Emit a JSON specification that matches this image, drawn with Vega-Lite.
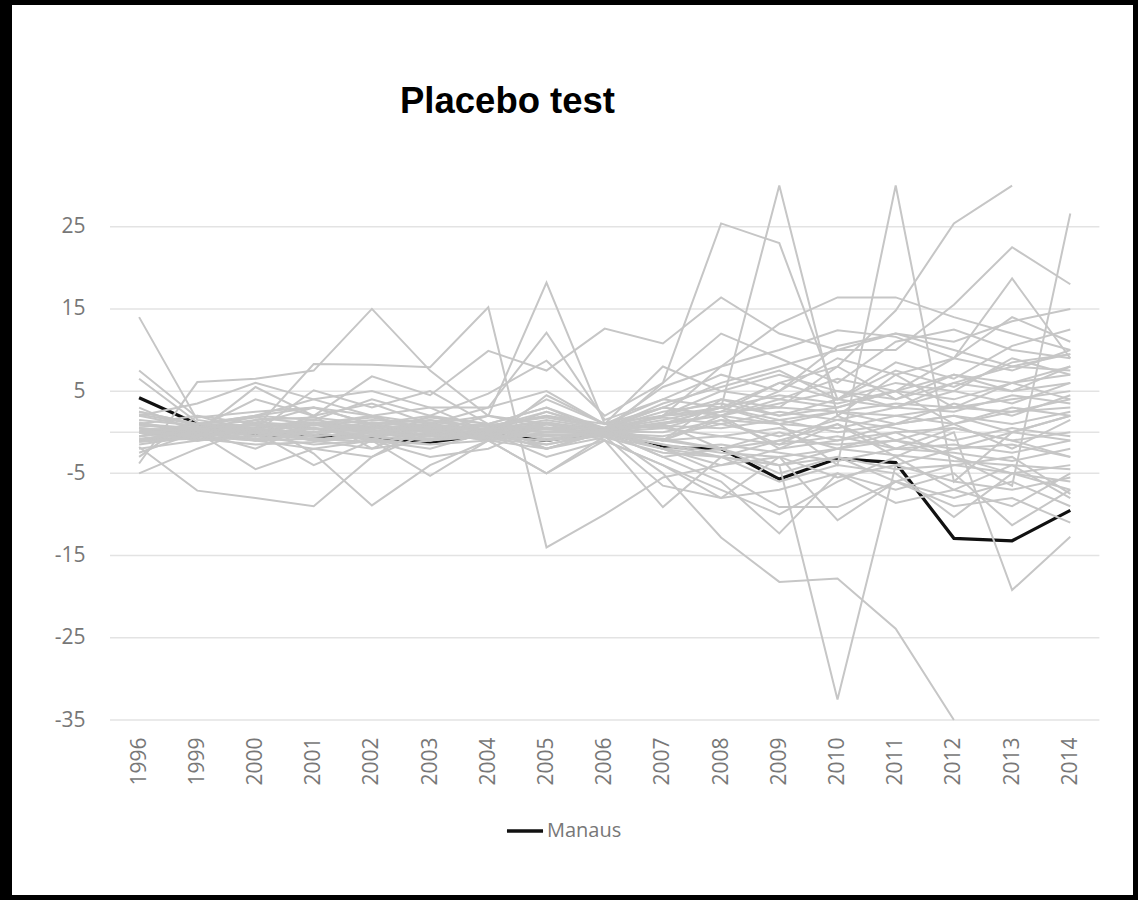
{
"$schema": "https://vega.github.io/schema/vega-lite/v6.json",
"width": 1138,
"height": 900,
"autosize": {"type": "fit", "contains": "padding"},
"padding": {"left": 12, "top": 5, "right": 5, "bottom": 5},
"background": "#000000",
"config": {"view": {"stroke": null, "fill": "#ffffff"}, "font": "Open Sans"},
"title": {"text": "Placebo test", "anchor": "start", "frame": "group", "orient": "top", "offset": -144, "dx": 388, "baseline": "alphabetic", "font": "Liberation Sans", "fontSize": 36.5, "fontWeight": "bold", "color": "#000000"},
"data": {"values": [
{"s":"M","t":1996,"v":4.2},{"s":"M","t":1999,"v":1.0},{"s":"M","t":2000,"v":-0.3},{"s":"M","t":2001,"v":-0.4},{"s":"M","t":2002,"v":-0.7},{"s":"M","t":2003,"v":-1.2},{"s":"M","t":2004,"v":-0.3},{"s":"M","t":2005,"v":-1.0},{"s":"M","t":2006,"v":0.0},{"s":"M","t":2007,"v":-1.8},{"s":"M","t":2008,"v":-2.0},{"s":"M","t":2009,"v":-5.7},{"s":"M","t":2010,"v":-3.2},{"s":"M","t":2011,"v":-3.7},{"s":"M","t":2012,"v":-12.9},{"s":"M","t":2013,"v":-13.2},{"s":"M","t":2014,"v":-9.5},
{"s":"a","t":1996,"v":14},{"s":"a","t":1999,"v":1.5},{"s":"a","t":2000,"v":0.5},{"s":"a","t":2001,"v":1},{"s":"a","t":2002,"v":0.2},{"s":"a","t":2003,"v":-0.5},{"s":"a","t":2004,"v":0.5},{"s":"a","t":2005,"v":1.2},{"s":"a","t":2006,"v":0.2},{"s":"a","t":2007,"v":2},{"s":"a","t":2008,"v":3},{"s":"a","t":2009,"v":1.5},{"s":"a","t":2010,"v":2.5},{"s":"a","t":2011,"v":1},{"s":"a","t":2012,"v":3.5},{"s":"a","t":2013,"v":2},{"s":"a","t":2014,"v":4.5},
{"s":"b","t":1996,"v":7.5},{"s":"b","t":1999,"v":1.8},{"s":"b","t":2000,"v":2.5},{"s":"b","t":2001,"v":3},{"s":"b","t":2002,"v":1},{"s":"b","t":2003,"v":2},{"s":"b","t":2004,"v":0},{"s":"b","t":2005,"v":2.5},{"s":"b","t":2006,"v":0.5},{"s":"b","t":2007,"v":3.5},{"s":"b","t":2008,"v":5.5},{"s":"b","t":2009,"v":7.5},{"s":"b","t":2010,"v":4},{"s":"b","t":2011,"v":8.5},{"s":"b","t":2012,"v":6.5},{"s":"b","t":2013,"v":10.5},{"s":"b","t":2014,"v":12.5},
{"s":"c","t":1996,"v":6.5},{"s":"c","t":1999,"v":1.2},{"s":"c","t":2000,"v":-0.5},{"s":"c","t":2001,"v":2},{"s":"c","t":2002,"v":3.5},{"s":"c","t":2003,"v":1},{"s":"c","t":2004,"v":-1},{"s":"c","t":2005,"v":4.5},{"s":"c","t":2006,"v":1},{"s":"c","t":2007,"v":3},{"s":"c","t":2008,"v":2},{"s":"c","t":2009,"v":5},{"s":"c","t":2010,"v":10.5},{"s":"c","t":2011,"v":12},{"s":"c","t":2012,"v":10},{"s":"c","t":2013,"v":8},{"s":"c","t":2014,"v":9.5},
{"s":"d","t":1996,"v":-3.8},{"s":"d","t":1999,"v":6.1},{"s":"d","t":2000,"v":6.5},{"s":"d","t":2001,"v":7.5},{"s":"d","t":2002,"v":15},{"s":"d","t":2003,"v":7.5},{"s":"d","t":2004,"v":2},{"s":"d","t":2005,"v":0.5},{"s":"d","t":2006,"v":0.5},{"s":"d","t":2007,"v":-1},{"s":"d","t":2008,"v":4},{"s":"d","t":2009,"v":2},{"s":"d","t":2010,"v":3},{"s":"d","t":2011,"v":5},{"s":"d","t":2012,"v":1},{"s":"d","t":2013,"v":2.5},{"s":"d","t":2014,"v":3},
{"s":"e","t":1996,"v":-1.8},{"s":"e","t":1999,"v":-7.1},{"s":"e","t":2000,"v":-8},{"s":"e","t":2001,"v":-9},{"s":"e","t":2002,"v":-3},{"s":"e","t":2003,"v":0},{"s":"e","t":2004,"v":1},{"s":"e","t":2005,"v":-2},{"s":"e","t":2006,"v":0},{"s":"e","t":2007,"v":-1.5},{"s":"e","t":2008,"v":-3},{"s":"e","t":2009,"v":-1},{"s":"e","t":2010,"v":1},{"s":"e","t":2011,"v":-2},{"s":"e","t":2012,"v":0.5},{"s":"e","t":2013,"v":-1},{"s":"e","t":2014,"v":-3},
{"s":"f","t":1996,"v":0.5},{"s":"f","t":1999,"v":-1},{"s":"f","t":2000,"v":1.5},{"s":"f","t":2001,"v":-2.6},{"s":"f","t":2002,"v":-8.9},{"s":"f","t":2003,"v":-4},{"s":"f","t":2004,"v":-1},{"s":"f","t":2005,"v":0.5},{"s":"f","t":2006,"v":0},{"s":"f","t":2007,"v":1},{"s":"f","t":2008,"v":-2},{"s":"f","t":2009,"v":-4},{"s":"f","t":2010,"v":-2},{"s":"f","t":2011,"v":0},{"s":"f","t":2012,"v":-3},{"s":"f","t":2013,"v":-5},{"s":"f","t":2014,"v":-4},
{"s":"g","t":1996,"v":-5},{"s":"g","t":1999,"v":-2},{"s":"g","t":2000,"v":0.5},{"s":"g","t":2001,"v":8.3},{"s":"g","t":2002,"v":8.2},{"s":"g","t":2003,"v":7.9},{"s":"g","t":2004,"v":15.2},{"s":"g","t":2005,"v":-14},{"s":"g","t":2006,"v":-10},{"s":"g","t":2007,"v":-5.5},{"s":"g","t":2008,"v":-4},{"s":"g","t":2009,"v":-2},{"s":"g","t":2010,"v":-1},{"s":"g","t":2011,"v":1},{"s":"g","t":2012,"v":2},{"s":"g","t":2013,"v":0},{"s":"g","t":2014,"v":2},
{"s":"h","t":1996,"v":2},{"s":"h","t":1999,"v":3.5},{"s":"h","t":2000,"v":6},{"s":"h","t":2001,"v":4},{"s":"h","t":2002,"v":2},{"s":"h","t":2003,"v":1},{"s":"h","t":2004,"v":2},{"s":"h","t":2005,"v":18.2},{"s":"h","t":2006,"v":1},{"s":"h","t":2007,"v":0.5},{"s":"h","t":2008,"v":2.5},{"s":"h","t":2009,"v":6},{"s":"h","t":2010,"v":8},{"s":"h","t":2011,"v":4},{"s":"h","t":2012,"v":7},{"s":"h","t":2013,"v":5},{"s":"h","t":2014,"v":6},
{"s":"i","t":1996,"v":1},{"s":"i","t":1999,"v":0.5},{"s":"i","t":2000,"v":4},{"s":"i","t":2001,"v":2},{"s":"i","t":2002,"v":6.8},{"s":"i","t":2003,"v":4.5},{"s":"i","t":2004,"v":9.9},{"s":"i","t":2005,"v":7.5},{"s":"i","t":2006,"v":12.6},{"s":"i","t":2007,"v":10.8},{"s":"i","t":2008,"v":16.4},{"s":"i","t":2009,"v":12},{"s":"i","t":2010,"v":10},{"s":"i","t":2011,"v":12},{"s":"i","t":2012,"v":11},{"s":"i","t":2013,"v":13.5},{"s":"i","t":2014,"v":15},
{"s":"j","t":1996,"v":0},{"s":"j","t":1999,"v":-0.5},{"s":"j","t":2000,"v":1},{"s":"j","t":2001,"v":0.5},{"s":"j","t":2002,"v":-1},{"s":"j","t":2003,"v":2},{"s":"j","t":2004,"v":1},{"s":"j","t":2005,"v":3},{"s":"j","t":2006,"v":0},{"s":"j","t":2007,"v":6},{"s":"j","t":2008,"v":25.4},{"s":"j","t":2009,"v":23},{"s":"j","t":2010,"v":4},{"s":"j","t":2011,"v":6},{"s":"j","t":2012,"v":5},{"s":"j","t":2013,"v":9},{"s":"j","t":2014,"v":7},
{"s":"k","t":1996,"v":-1},{"s":"k","t":1999,"v":0},{"s":"k","t":2000,"v":-2},{"s":"k","t":2001,"v":1},{"s":"k","t":2002,"v":0},{"s":"k","t":2003,"v":-1},{"s":"k","t":2004,"v":0.5},{"s":"k","t":2005,"v":2},{"s":"k","t":2006,"v":1},{"s":"k","t":2007,"v":4},{"s":"k","t":2008,"v":3},{"s":"k","t":2009,"v":30},{"s":"k","t":2010,"v":2},{"s":"k","t":2011,"v":7},{"s":"k","t":2012,"v":3},{"s":"k","t":2013,"v":6},{"s":"k","t":2014,"v":4},
{"s":"l","t":1996,"v":0.5},{"s":"l","t":1999,"v":-1},{"s":"l","t":2000,"v":-0.5},{"s":"l","t":2001,"v":0},{"s":"l","t":2002,"v":1},{"s":"l","t":2003,"v":0},{"s":"l","t":2004,"v":-1},{"s":"l","t":2005,"v":1},{"s":"l","t":2006,"v":0},{"s":"l","t":2007,"v":1},{"s":"l","t":2008,"v":3},{"s":"l","t":2009,"v":1},{"s":"l","t":2010,"v":-4},{"s":"l","t":2011,"v":30},{"s":"l","t":2012,"v":-6},{"s":"l","t":2013,"v":0},{"s":"l","t":2014,"v":2},
{"s":"m","t":1996,"v":-0.5},{"s":"m","t":1999,"v":0.5},{"s":"m","t":2000,"v":1},{"s":"m","t":2001,"v":-1},{"s":"m","t":2002,"v":0},{"s":"m","t":2003,"v":1.5},{"s":"m","t":2004,"v":0},{"s":"m","t":2005,"v":-1.5},{"s":"m","t":2006,"v":0},{"s":"m","t":2007,"v":2},{"s":"m","t":2008,"v":4},{"s":"m","t":2009,"v":3},{"s":"m","t":2010,"v":8},{"s":"m","t":2011,"v":14.8},{"s":"m","t":2012,"v":25.4},{"s":"m","t":2013,"v":30},
{"s":"n","t":1996,"v":0},{"s":"n","t":1999,"v":1},{"s":"n","t":2000,"v":2},{"s":"n","t":2001,"v":3},{"s":"n","t":2002,"v":1},{"s":"n","t":2003,"v":0},{"s":"n","t":2004,"v":2},{"s":"n","t":2005,"v":1},{"s":"n","t":2006,"v":0.5},{"s":"n","t":2007,"v":3},{"s":"n","t":2008,"v":6},{"s":"n","t":2009,"v":8},{"s":"n","t":2010,"v":10},{"s":"n","t":2011,"v":10},{"s":"n","t":2012,"v":15.5},{"s":"n","t":2013,"v":22.5},{"s":"n","t":2014,"v":18},
{"s":"o","t":1996,"v":0.5},{"s":"o","t":1999,"v":0},{"s":"o","t":2000,"v":-1},{"s":"o","t":2001,"v":1},{"s":"o","t":2002,"v":2},{"s":"o","t":2003,"v":0},{"s":"o","t":2004,"v":1},{"s":"o","t":2005,"v":0},{"s":"o","t":2006,"v":0},{"s":"o","t":2007,"v":1},{"s":"o","t":2008,"v":2},{"s":"o","t":2009,"v":4},{"s":"o","t":2010,"v":3},{"s":"o","t":2011,"v":5},{"s":"o","t":2012,"v":9},{"s":"o","t":2013,"v":18.7},{"s":"o","t":2014,"v":9},
{"s":"p","t":1996,"v":-1},{"s":"p","t":1999,"v":0.5},{"s":"p","t":2000,"v":0},{"s":"p","t":2001,"v":-1},{"s":"p","t":2002,"v":-2},{"s":"p","t":2003,"v":-1},{"s":"p","t":2004,"v":0},{"s":"p","t":2005,"v":-2},{"s":"p","t":2006,"v":0},{"s":"p","t":2007,"v":-3},{"s":"p","t":2008,"v":-2},{"s":"p","t":2009,"v":0},{"s":"p","t":2010,"v":-2},{"s":"p","t":2011,"v":-1},{"s":"p","t":2012,"v":-3},{"s":"p","t":2013,"v":-6.5},{"s":"p","t":2014,"v":26.6},
{"s":"q","t":1996,"v":1},{"s":"q","t":1999,"v":0},{"s":"q","t":2000,"v":2},{"s":"q","t":2001,"v":4},{"s":"q","t":2002,"v":5},{"s":"q","t":2003,"v":3},{"s":"q","t":2004,"v":0},{"s":"q","t":2005,"v":4},{"s":"q","t":2006,"v":1},{"s":"q","t":2007,"v":2},{"s":"q","t":2008,"v":8},{"s":"q","t":2009,"v":13.2},{"s":"q","t":2010,"v":16.4},{"s":"q","t":2011,"v":16.4},{"s":"q","t":2012,"v":14},{"s":"q","t":2013,"v":12},{"s":"q","t":2014,"v":10},
{"s":"r","t":1996,"v":0},{"s":"r","t":1999,"v":0.5},{"s":"r","t":2000,"v":-1},{"s":"r","t":2001,"v":0},{"s":"r","t":2002,"v":1},{"s":"r","t":2003,"v":0},{"s":"r","t":2004,"v":-0.5},{"s":"r","t":2005,"v":-1},{"s":"r","t":2006,"v":0},{"s":"r","t":2007,"v":-2},{"s":"r","t":2008,"v":-3},{"s":"r","t":2009,"v":-4},{"s":"r","t":2010,"v":-32.5},{"s":"r","t":2011,"v":-4},{"s":"r","t":2012,"v":-2},{"s":"r","t":2013,"v":0},{"s":"r","t":2014,"v":-1},
{"s":"s","t":1996,"v":0},{"s":"s","t":1999,"v":-1},{"s":"s","t":2000,"v":0},{"s":"s","t":2001,"v":1},{"s":"s","t":2002,"v":0},{"s":"s","t":2003,"v":-1},{"s":"s","t":2004,"v":0},{"s":"s","t":2005,"v":-2},{"s":"s","t":2006,"v":0},{"s":"s","t":2007,"v":-5},{"s":"s","t":2008,"v":-12.8},{"s":"s","t":2009,"v":-18.2},{"s":"s","t":2010,"v":-17.8},{"s":"s","t":2011,"v":-23.9},{"s":"s","t":2012,"v":-35},
{"s":"t","t":1996,"v":0.5},{"s":"t","t":1999,"v":0},{"s":"t","t":2000,"v":1},{"s":"t","t":2001,"v":-1},{"s":"t","t":2002,"v":0},{"s":"t","t":2003,"v":1},{"s":"t","t":2004,"v":-1},{"s":"t","t":2005,"v":0},{"s":"t","t":2006,"v":0},{"s":"t","t":2007,"v":-1},{"s":"t","t":2008,"v":2},{"s":"t","t":2009,"v":-2},{"s":"t","t":2010,"v":1},{"s":"t","t":2011,"v":-3},{"s":"t","t":2012,"v":0},{"s":"t","t":2013,"v":-19.2},{"s":"t","t":2014,"v":-12.7},
{"s":"u","t":1996,"v":-1},{"s":"u","t":1999,"v":-0.5},{"s":"u","t":2000,"v":-1},{"s":"u","t":2001,"v":0},{"s":"u","t":2002,"v":-1},{"s":"u","t":2003,"v":-2},{"s":"u","t":2004,"v":0},{"s":"u","t":2005,"v":-3},{"s":"u","t":2006,"v":-1},{"s":"u","t":2007,"v":-9.1},{"s":"u","t":2008,"v":-3},{"s":"u","t":2009,"v":-6},{"s":"u","t":2010,"v":-4},{"s":"u","t":2011,"v":-5},{"s":"u","t":2012,"v":-10.3},{"s":"u","t":2013,"v":-5},{"s":"u","t":2014,"v":-7},
{"s":"v","t":1996,"v":0},{"s":"v","t":1999,"v":1},{"s":"v","t":2000,"v":0.5},{"s":"v","t":2001,"v":-1},{"s":"v","t":2002,"v":0},{"s":"v","t":2003,"v":-0.5},{"s":"v","t":2004,"v":1},{"s":"v","t":2005,"v":-1},{"s":"v","t":2006,"v":0},{"s":"v","t":2007,"v":-3},{"s":"v","t":2008,"v":-6},{"s":"v","t":2009,"v":-12.3},{"s":"v","t":2010,"v":-5},{"s":"v","t":2011,"v":-7},{"s":"v","t":2012,"v":-5},{"s":"v","t":2013,"v":-11.3},{"s":"v","t":2014,"v":-7},
{"s":"w","t":1996,"v":0},{"s":"w","t":1999,"v":-1},{"s":"w","t":2000,"v":0},{"s":"w","t":2001,"v":1},{"s":"w","t":2002,"v":-1},{"s":"w","t":2003,"v":0},{"s":"w","t":2004,"v":-1},{"s":"w","t":2005,"v":0},{"s":"w","t":2006,"v":0},{"s":"w","t":2007,"v":-2},{"s":"w","t":2008,"v":-5},{"s":"w","t":2009,"v":-9.1},{"s":"w","t":2010,"v":-9.1},{"s":"w","t":2011,"v":-6},{"s":"w","t":2012,"v":-8},{"s":"w","t":2013,"v":-6},{"s":"w","t":2014,"v":-9},
{"s":"x","t":1996,"v":0},{"s":"x","t":1999,"v":0},{"s":"x","t":2000,"v":-1},{"s":"x","t":2001,"v":-2},{"s":"x","t":2002,"v":-1},{"s":"x","t":2003,"v":-5.3},{"s":"x","t":2004,"v":-1},{"s":"x","t":2005,"v":-5},{"s":"x","t":2006,"v":-1},{"s":"x","t":2007,"v":-4},{"s":"x","t":2008,"v":-8},{"s":"x","t":2009,"v":-3},{"s":"x","t":2010,"v":-10.7},{"s":"x","t":2011,"v":-6},{"s":"x","t":2012,"v":-9},{"s":"x","t":2013,"v":-8},{"s":"x","t":2014,"v":-11},
{"s":"y","t":1996,"v":1},{"s":"y","t":1999,"v":2},{"s":"y","t":2000,"v":1},{"s":"y","t":2001,"v":3},{"s":"y","t":2002,"v":2},{"s":"y","t":2003,"v":3},{"s":"y","t":2004,"v":3},{"s":"y","t":2005,"v":12.1},{"s":"y","t":2006,"v":1.5},{"s":"y","t":2007,"v":4},{"s":"y","t":2008,"v":7},{"s":"y","t":2009,"v":5},{"s":"y","t":2010,"v":9},{"s":"y","t":2011,"v":7},{"s":"y","t":2012,"v":9},{"s":"y","t":2013,"v":7.5},{"s":"y","t":2014,"v":10},
{"s":"z","t":1996,"v":-0.5},{"s":"z","t":1999,"v":1},{"s":"z","t":2000,"v":2},{"s":"z","t":2001,"v":1.5},{"s":"z","t":2002,"v":4},{"s":"z","t":2003,"v":2},{"s":"z","t":2004,"v":4.7},{"s":"z","t":2005,"v":8.7},{"s":"z","t":2006,"v":2},{"s":"z","t":2007,"v":6},{"s":"z","t":2008,"v":12},{"s":"z","t":2009,"v":9},{"s":"z","t":2010,"v":6},{"s":"z","t":2011,"v":11},{"s":"z","t":2012,"v":12.5},{"s":"z","t":2013,"v":10},{"s":"z","t":2014,"v":9},
{"s":"aa","t":1996,"v":2.5},{"s":"aa","t":1999,"v":1},{"s":"aa","t":2000,"v":0},{"s":"aa","t":2001,"v":5.1},{"s":"aa","t":2002,"v":3},{"s":"aa","t":2003,"v":5},{"s":"aa","t":2004,"v":1},{"s":"aa","t":2005,"v":3},{"s":"aa","t":2006,"v":0.5},{"s":"aa","t":2007,"v":5.5},{"s":"aa","t":2008,"v":8},{"s":"aa","t":2009,"v":10},{"s":"aa","t":2010,"v":12.4},{"s":"aa","t":2011,"v":11.6},{"s":"aa","t":2012,"v":9},{"s":"aa","t":2013,"v":14},{"s":"aa","t":2014,"v":11},
{"s":"ab","t":1996,"v":-2.5},{"s":"ab","t":1999,"v":0},{"s":"ab","t":2000,"v":-4.5},{"s":"ab","t":2001,"v":-2},{"s":"ab","t":2002,"v":-3},{"s":"ab","t":2003,"v":1},{"s":"ab","t":2004,"v":-1},{"s":"ab","t":2005,"v":-5},{"s":"ab","t":2006,"v":-0.5},{"s":"ab","t":2007,"v":-6.5},{"s":"ab","t":2008,"v":-8},{"s":"ab","t":2009,"v":-7},{"s":"ab","t":2010,"v":-5},{"s":"ab","t":2011,"v":-8.6},{"s":"ab","t":2012,"v":-7},{"s":"ab","t":2013,"v":-4},{"s":"ab","t":2014,"v":-8},
{"s":"ac","t":1996,"v":3},{"s":"ac","t":1999,"v":0},{"s":"ac","t":2000,"v":5.5},{"s":"ac","t":2001,"v":2},{"s":"ac","t":2002,"v":-2},{"s":"ac","t":2003,"v":1},{"s":"ac","t":2004,"v":3},{"s":"ac","t":2005,"v":5},{"s":"ac","t":2006,"v":1},{"s":"ac","t":2007,"v":8},{"s":"ac","t":2008,"v":5},{"s":"ac","t":2009,"v":7},{"s":"ac","t":2010,"v":5},{"s":"ac","t":2011,"v":3},{"s":"ac","t":2012,"v":6},{"s":"ac","t":2013,"v":8},{"s":"ac","t":2014,"v":7.5},
{"s":"ad","t":1996,"v":-3},{"s":"ad","t":1999,"v":2},{"s":"ad","t":2000,"v":0},{"s":"ad","t":2001,"v":-4},{"s":"ad","t":2002,"v":-1},{"s":"ad","t":2003,"v":-3},{"s":"ad","t":2004,"v":-2},{"s":"ad","t":2005,"v":1},{"s":"ad","t":2006,"v":-1},{"s":"ad","t":2007,"v":-4},{"s":"ad","t":2008,"v":-7},{"s":"ad","t":2009,"v":-10},{"s":"ad","t":2010,"v":-6},{"s":"ad","t":2011,"v":-3},{"s":"ad","t":2012,"v":-7},{"s":"ad","t":2013,"v":-9},{"s":"ad","t":2014,"v":-5},
{"s":"b01","t":1996,"v":2.5},{"s":"b01","t":1999,"v":1.0},{"s":"b01","t":2000,"v":0.8},{"s":"b01","t":2001,"v":1.2},{"s":"b01","t":2002,"v":0.5},{"s":"b01","t":2003,"v":1.0},{"s":"b01","t":2004,"v":0.3},{"s":"b01","t":2005,"v":1.5},{"s":"b01","t":2006,"v":0.4},{"s":"b01","t":2007,"v":2.0},{"s":"b01","t":2008,"v":2.5},{"s":"b01","t":2009,"v":3.0},{"s":"b01","t":2010,"v":2.5},{"s":"b01","t":2011,"v":3.5},{"s":"b01","t":2012,"v":3.0},{"s":"b01","t":2013,"v":4.0},{"s":"b01","t":2014,"v":5.0},
{"s":"b02","t":1996,"v":-1.5},{"s":"b02","t":1999,"v":-0.5},{"s":"b02","t":2000,"v":-1.0},{"s":"b02","t":2001,"v":-0.8},{"s":"b02","t":2002,"v":-1.2},{"s":"b02","t":2003,"v":-0.5},{"s":"b02","t":2004,"v":-0.8},{"s":"b02","t":2005,"v":-1.5},{"s":"b02","t":2006,"v":-0.3},{"s":"b02","t":2007,"v":-1.5},{"s":"b02","t":2008,"v":-2.5},{"s":"b02","t":2009,"v":-3.0},{"s":"b02","t":2010,"v":-2.0},{"s":"b02","t":2011,"v":-2.8},{"s":"b02","t":2012,"v":-3.5},{"s":"b02","t":2013,"v":-4.0},{"s":"b02","t":2014,"v":-4.5},
{"s":"b03","t":1996,"v":1.0},{"s":"b03","t":1999,"v":0.2},{"s":"b03","t":2000,"v":0.5},{"s":"b03","t":2001,"v":-0.3},{"s":"b03","t":2002,"v":0.8},{"s":"b03","t":2003,"v":0.2},{"s":"b03","t":2004,"v":0.5},{"s":"b03","t":2005,"v":0.0},{"s":"b03","t":2006,"v":0.2},{"s":"b03","t":2007,"v":0.8},{"s":"b03","t":2008,"v":0.5},{"s":"b03","t":2009,"v":1.5},{"s":"b03","t":2010,"v":0.0},{"s":"b03","t":2011,"v":1.0},{"s":"b03","t":2012,"v":2.0},{"s":"b03","t":2013,"v":1.0},{"s":"b03","t":2014,"v":2.5},
{"s":"b04","t":1996,"v":-0.5},{"s":"b04","t":1999,"v":0.3},{"s":"b04","t":2000,"v":-0.2},{"s":"b04","t":2001,"v":0.5},{"s":"b04","t":2002,"v":-0.5},{"s":"b04","t":2003,"v":0.4},{"s":"b04","t":2004,"v":-0.2},{"s":"b04","t":2005,"v":0.6},{"s":"b04","t":2006,"v":-0.1},{"s":"b04","t":2007,"v":-0.5},{"s":"b04","t":2008,"v":1.0},{"s":"b04","t":2009,"v":-0.5},{"s":"b04","t":2010,"v":1.5},{"s":"b04","t":2011,"v":0.5},{"s":"b04","t":2012,"v":-1.0},{"s":"b04","t":2013,"v":0.5},{"s":"b04","t":2014,"v":-0.5},
{"s":"b05","t":1996,"v":0.5},{"s":"b05","t":1999,"v":-0.2},{"s":"b05","t":2000,"v":1.2},{"s":"b05","t":2001,"v":0.8},{"s":"b05","t":2002,"v":1.5},{"s":"b05","t":2003,"v":1.2},{"s":"b05","t":2004,"v":0.8},{"s":"b05","t":2005,"v":2.0},{"s":"b05","t":2006,"v":0.5},{"s":"b05","t":2007,"v":2.5},{"s":"b05","t":2008,"v":3.5},{"s":"b05","t":2009,"v":2.0},{"s":"b05","t":2010,"v":4.0},{"s":"b05","t":2011,"v":3.0},{"s":"b05","t":2012,"v":5.0},{"s":"b05","t":2013,"v":3.5},{"s":"b05","t":2014,"v":6.0},
{"s":"b06","t":1996,"v":-1.0},{"s":"b06","t":1999,"v":-0.8},{"s":"b06","t":2000,"v":-1.5},{"s":"b06","t":2001,"v":-1.2},{"s":"b06","t":2002,"v":-0.5},{"s":"b06","t":2003,"v":-1.0},{"s":"b06","t":2004,"v":-0.5},{"s":"b06","t":2005,"v":-1.0},{"s":"b06","t":2006,"v":-0.5},{"s":"b06","t":2007,"v":-2.0},{"s":"b06","t":2008,"v":-1.5},{"s":"b06","t":2009,"v":-2.5},{"s":"b06","t":2010,"v":-3.5},{"s":"b06","t":2011,"v":-2.0},{"s":"b06","t":2012,"v":-2.5},{"s":"b06","t":2013,"v":-3.5},{"s":"b06","t":2014,"v":-2.0},
{"s":"b07","t":1996,"v":2.0},{"s":"b07","t":1999,"v":0.6},{"s":"b07","t":2000,"v":1.5},{"s":"b07","t":2001,"v":1.8},{"s":"b07","t":2002,"v":1.0},{"s":"b07","t":2003,"v":1.5},{"s":"b07","t":2004,"v":0.6},{"s":"b07","t":2005,"v":2.5},{"s":"b07","t":2006,"v":0.3},{"s":"b07","t":2007,"v":1.5},{"s":"b07","t":2008,"v":3.0},{"s":"b07","t":2009,"v":4.5},{"s":"b07","t":2010,"v":3.5},{"s":"b07","t":2011,"v":5.0},{"s":"b07","t":2012,"v":4.0},{"s":"b07","t":2013,"v":6.0},{"s":"b07","t":2014,"v":7.0},
{"s":"b08","t":1996,"v":0.0},{"s":"b08","t":1999,"v":-0.3},{"s":"b08","t":2000,"v":0.3},{"s":"b08","t":2001,"v":0.0},{"s":"b08","t":2002,"v":0.3},{"s":"b08","t":2003,"v":-0.3},{"s":"b08","t":2004,"v":0.0},{"s":"b08","t":2005,"v":-0.5},{"s":"b08","t":2006,"v":0.0},{"s":"b08","t":2007,"v":0.5},{"s":"b08","t":2008,"v":-0.5},{"s":"b08","t":2009,"v":0.5},{"s":"b08","t":2010,"v":-1.0},{"s":"b08","t":2011,"v":0.0},{"s":"b08","t":2012,"v":0.5},{"s":"b08","t":2013,"v":-1.0},{"s":"b08","t":2014,"v":0.0},
{"s":"b09","t":1996,"v":1.5},{"s":"b09","t":1999,"v":0.8},{"s":"b09","t":2000,"v":-0.5},{"s":"b09","t":2001,"v":0.5},{"s":"b09","t":2002,"v":-0.8},{"s":"b09","t":2003,"v":0.8},{"s":"b09","t":2004,"v":-0.5},{"s":"b09","t":2005,"v":1.0},{"s":"b09","t":2006,"v":0.3},{"s":"b09","t":2007,"v":-1.0},{"s":"b09","t":2008,"v":1.5},{"s":"b09","t":2009,"v":-1.5},{"s":"b09","t":2010,"v":2.0},{"s":"b09","t":2011,"v":-1.0},{"s":"b09","t":2012,"v":1.0},{"s":"b09","t":2013,"v":-2.0},{"s":"b09","t":2014,"v":1.5},
{"s":"b10","t":1996,"v":-2.0},{"s":"b10","t":1999,"v":-1.0},{"s":"b10","t":2000,"v":-0.5},{"s":"b10","t":2001,"v":-1.5},{"s":"b10","t":2002,"v":-1.0},{"s":"b10","t":2003,"v":-1.5},{"s":"b10","t":2004,"v":-1.0},{"s":"b10","t":2005,"v":-2.0},{"s":"b10","t":2006,"v":-0.6},{"s":"b10","t":2007,"v":-2.5},{"s":"b10","t":2008,"v":-3.0},{"s":"b10","t":2009,"v":-4.0},{"s":"b10","t":2010,"v":-3.0},{"s":"b10","t":2011,"v":-4.5},{"s":"b10","t":2012,"v":-4.0},{"s":"b10","t":2013,"v":-5.0},{"s":"b10","t":2014,"v":-6.0},
{"s":"b11","t":1996,"v":0.8},{"s":"b11","t":1999,"v":0.5},{"s":"b11","t":2000,"v":1.0},{"s":"b11","t":2001,"v":0.3},{"s":"b11","t":2002,"v":1.2},{"s":"b11","t":2003,"v":0.6},{"s":"b11","t":2004,"v":0.3},{"s":"b11","t":2005,"v":1.0},{"s":"b11","t":2006,"v":0.2},{"s":"b11","t":2007,"v":1.2},{"s":"b11","t":2008,"v":2.0},{"s":"b11","t":2009,"v":1.0},{"s":"b11","t":2010,"v":2.5},{"s":"b11","t":2011,"v":2.0},{"s":"b11","t":2012,"v":3.0},{"s":"b11","t":2013,"v":2.5},{"s":"b11","t":2014,"v":4.0},
{"s":"b12","t":1996,"v":-0.8},{"s":"b12","t":1999,"v":0.0},{"s":"b12","t":2000,"v":-0.8},{"s":"b12","t":2001,"v":-0.5},{"s":"b12","t":2002,"v":0.0},{"s":"b12","t":2003,"v":-0.8},{"s":"b12","t":2004,"v":0.2},{"s":"b12","t":2005,"v":-0.8},{"s":"b12","t":2006,"v":0.0},{"s":"b12","t":2007,"v":-1.0},{"s":"b12","t":2008,"v":-0.5},{"s":"b12","t":2009,"v":-1.5},{"s":"b12","t":2010,"v":-0.5},{"s":"b12","t":2011,"v":-2.0},{"s":"b12","t":2012,"v":-1.5},{"s":"b12","t":2013,"v":-2.5},{"s":"b12","t":2014,"v":-1.0},
{"s":"b13","t":1996,"v":2.2},{"s":"b13","t":1999,"v":0.9},{"s":"b13","t":2000,"v":1.8},{"s":"b13","t":2001,"v":1.0},{"s":"b13","t":2002,"v":1.8},{"s":"b13","t":2003,"v":0.5},{"s":"b13","t":2004,"v":0.8},{"s":"b13","t":2005,"v":1.8},{"s":"b13","t":2006,"v":0.5},{"s":"b13","t":2007,"v":3.0},{"s":"b13","t":2008,"v":2.0},{"s":"b13","t":2009,"v":3.5},{"s":"b13","t":2010,"v":5.0},{"s":"b13","t":2011,"v":4.0},{"s":"b13","t":2012,"v":6.0},{"s":"b13","t":2013,"v":5.0},{"s":"b13","t":2014,"v":8.0},
{"s":"b14","t":1996,"v":0.2},{"s":"b14","t":1999,"v":0.4},{"s":"b14","t":2000,"v":0.0},{"s":"b14","t":2001,"v":1.0},{"s":"b14","t":2002,"v":0.0},{"s":"b14","t":2003,"v":0.8},{"s":"b14","t":2004,"v":0.4},{"s":"b14","t":2005,"v":0.3},{"s":"b14","t":2006,"v":0.1},{"s":"b14","t":2007,"v":0.0},{"s":"b14","t":2008,"v":1.5},{"s":"b14","t":2009,"v":1.0},{"s":"b14","t":2010,"v":0.5},{"s":"b14","t":2011,"v":2.0},{"s":"b14","t":2012,"v":1.0},{"s":"b14","t":2013,"v":3.0},{"s":"b14","t":2014,"v":2.0},
{"s":"b15","t":1996,"v":-1.2},{"s":"b15","t":1999,"v":-0.6},{"s":"b15","t":2000,"v":0.2},{"s":"b15","t":2001,"v":-1.0},{"s":"b15","t":2002,"v":-0.3},{"s":"b15","t":2003,"v":-0.2},{"s":"b15","t":2004,"v":-0.6},{"s":"b15","t":2005,"v":-0.3},{"s":"b15","t":2006,"v":-0.2},{"s":"b15","t":2007,"v":-0.8},{"s":"b15","t":2008,"v":-2.0},{"s":"b15","t":2009,"v":-1.0},{"s":"b15","t":2010,"v":-1.5},{"s":"b15","t":2011,"v":-1.0},{"s":"b15","t":2012,"v":-2.0},{"s":"b15","t":2013,"v":-1.5},{"s":"b15","t":2014,"v":-3.0},
{"s":"b16","t":1996,"v":1.2},{"s":"b16","t":1999,"v":0.0},{"s":"b16","t":2000,"v":0.6},{"s":"b16","t":2001,"v":1.5},{"s":"b16","t":2002,"v":0.6},{"s":"b16","t":2003,"v":1.8},{"s":"b16","t":2004,"v":1.0},{"s":"b16","t":2005,"v":0.5},{"s":"b16","t":2006,"v":0.6},{"s":"b16","t":2007,"v":1.8},{"s":"b16","t":2008,"v":1.0},{"s":"b16","t":2009,"v":2.5},{"s":"b16","t":2010,"v":1.5},{"s":"b16","t":2011,"v":3.0},{"s":"b16","t":2012,"v":2.5},{"s":"b16","t":2013,"v":4.5},{"s":"b16","t":2014,"v":3.5},
{"s":"c01","t":1996,"v":0.0},{"s":"c01","t":1999,"v":0.5},{"s":"c01","t":2000,"v":0.0},{"s":"c01","t":2001,"v":1.0},{"s":"c01","t":2002,"v":0.5},{"s":"c01","t":2003,"v":0.0},{"s":"c01","t":2004,"v":0.5},{"s":"c01","t":2005,"v":0.0},{"s":"c01","t":2006,"v":0.0},{"s":"c01","t":2007,"v":2.0},{"s":"c01","t":2008,"v":5.0},{"s":"c01","t":2009,"v":4.0},{"s":"c01","t":2010,"v":6.5},{"s":"c01","t":2011,"v":5.0},{"s":"c01","t":2012,"v":7.0},{"s":"c01","t":2013,"v":6.0},{"s":"c01","t":2014,"v":8.0},
{"s":"c02","t":1996,"v":0.5},{"s":"c02","t":1999,"v":0.0},{"s":"c02","t":2000,"v":1.0},{"s":"c02","t":2001,"v":0.0},{"s":"c02","t":2002,"v":0.5},{"s":"c02","t":2003,"v":1.0},{"s":"c02","t":2004,"v":0.0},{"s":"c02","t":2005,"v":1.0},{"s":"c02","t":2006,"v":0.2},{"s":"c02","t":2007,"v":1.0},{"s":"c02","t":2008,"v":3.0},{"s":"c02","t":2009,"v":6.0},{"s":"c02","t":2010,"v":4.0},{"s":"c02","t":2011,"v":7.5},{"s":"c02","t":2012,"v":5.5},{"s":"c02","t":2013,"v":8.5},{"s":"c02","t":2014,"v":9.5},
{"s":"c03","t":1996,"v":-0.5},{"s":"c03","t":1999,"v":0.3},{"s":"c03","t":2000,"v":-0.5},{"s":"c03","t":2001,"v":0.5},{"s":"c03","t":2002,"v":0.0},{"s":"c03","t":2003,"v":-0.5},{"s":"c03","t":2004,"v":0.3},{"s":"c03","t":2005,"v":-0.5},{"s":"c03","t":2006,"v":0.0},{"s":"c03","t":2007,"v":-2.0},{"s":"c03","t":2008,"v":-4.0},{"s":"c03","t":2009,"v":-3.0},{"s":"c03","t":2010,"v":-5.5},{"s":"c03","t":2011,"v":-4.0},{"s":"c03","t":2012,"v":-6.0},{"s":"c03","t":2013,"v":-7.0},{"s":"c03","t":2014,"v":-5.5},
{"s":"c04","t":1996,"v":0.0},{"s":"c04","t":1999,"v":-0.5},{"s":"c04","t":2000,"v":0.5},{"s":"c04","t":2001,"v":-0.5},{"s":"c04","t":2002,"v":0.0},{"s":"c04","t":2003,"v":0.5},{"s":"c04","t":2004,"v":-0.3},{"s":"c04","t":2005,"v":0.5},{"s":"c04","t":2006,"v":-0.2},{"s":"c04","t":2007,"v":-1.0},{"s":"c04","t":2008,"v":-2.0},{"s":"c04","t":2009,"v":-5.0},{"s":"c04","t":2010,"v":-3.0},{"s":"c04","t":2011,"v":-6.0},{"s":"c04","t":2012,"v":-4.0},{"s":"c04","t":2013,"v":-3.0},{"s":"c04","t":2014,"v":-7.5}
]},
"layer": [
{
"data": {"values": [{"g":25},{"g":15},{"g":5},{"g":0},{"g":-5},{"g":-15},{"g":-25},{"g":-35}]},
"mark": {"type": "rule", "color": "#e3e3e3", "strokeWidth": 1.5, "xOffset": -29.1, "x2Offset": 29.1},
"encoding": {
"x": {"datum": 1996, "type": "ordinal", "title": null, "scale": {"type": "point", "domain": [1996,1999,2000,2001,2002,2003,2004,2005,2006,2007,2008,2009,2010,2011,2012,2013,2014], "range": [127.1, 1058.3], "padding": 0}, "axis": {"orient": "bottom", "offset": -175, "ticks": false, "domain": false, "grid": false, "labelAngle": -90, "labelPadding": 17, "labelFont": "Open Sans", "labelFontSize": 21, "labelColor": "#777777", "labelOverlap": false}},
"x2": {"datum": 2014},
"y": {"field": "g", "type": "quantitative", "title": null, "scale": {"domain": [-56.28, 51.96], "nice": false, "zero": false}, "axis": {"values": [-35,-25,-15,-5,5,15,25], "labelExpr": "'' + datum.value", "offset": -73, "ticks": false, "domain": false, "grid": false, "labelPadding": 0, "labelFont": "Open Sans", "labelFontSize": 21, "labelColor": "#777777"}}
}
},
{
"transform": [{"filter": "datum.s === 'M'"}],
"mark": {"type": "line", "strokeWidth": 3.2},
"encoding": {
"x": {"field": "t", "type": "ordinal", "title": null, "scale": {"type": "point", "domain": [1996,1999,2000,2001,2002,2003,2004,2005,2006,2007,2008,2009,2010,2011,2012,2013,2014], "range": [127.1, 1058.3], "padding": 0}, "axis": {"orient": "bottom", "offset": -175, "ticks": false, "domain": false, "grid": false, "labelAngle": -90, "labelPadding": 17, "labelFont": "Open Sans", "labelFontSize": 21, "labelColor": "#777777", "labelOverlap": false}},
"y": {"field": "v", "type": "quantitative", "title": null, "scale": {"domain": [-56.28, 51.96], "nice": false, "zero": false}, "axis": {"values": [-35,-25,-15,-5,5,15,25], "labelExpr": "'' + datum.value", "offset": -73, "ticks": false, "domain": false, "grid": false, "labelPadding": 0, "labelFont": "Open Sans", "labelFontSize": 21, "labelColor": "#777777"}},
"color": {"datum": "Manaus", "type": "nominal", "scale": {"range": ["#111111"]}, "legend": {"title": null, "orient": "none", "legendX": 493, "legendY": 806, "symbolType": "stroke", "symbolSize": 1300, "symbolStrokeWidth": 3.5, "labelFont": "Open Sans", "labelFontSize": 20, "labelColor": "#777777", "labelOffset": 2, "padding": 0}}
}
},
{
"transform": [{"filter": "datum.s !== 'M'"}],
"mark": {"type": "line", "color": "#c6c6c6", "strokeWidth": 2},
"encoding": {
"x": {"field": "t", "type": "ordinal", "title": null, "scale": {"type": "point", "domain": [1996,1999,2000,2001,2002,2003,2004,2005,2006,2007,2008,2009,2010,2011,2012,2013,2014], "range": [127.1, 1058.3], "padding": 0}, "axis": {"orient": "bottom", "offset": -175, "ticks": false, "domain": false, "grid": false, "labelAngle": -90, "labelPadding": 17, "labelFont": "Open Sans", "labelFontSize": 21, "labelColor": "#777777", "labelOverlap": false}},
"y": {"field": "v", "type": "quantitative", "title": null, "scale": {"domain": [-56.28, 51.96], "nice": false, "zero": false}, "axis": {"values": [-35,-25,-15,-5,5,15,25], "labelExpr": "'' + datum.value", "offset": -73, "ticks": false, "domain": false, "grid": false, "labelPadding": 0, "labelFont": "Open Sans", "labelFontSize": 21, "labelColor": "#777777"}},
"detail": {"field": "s", "type": "nominal"}
}
}
]
}
